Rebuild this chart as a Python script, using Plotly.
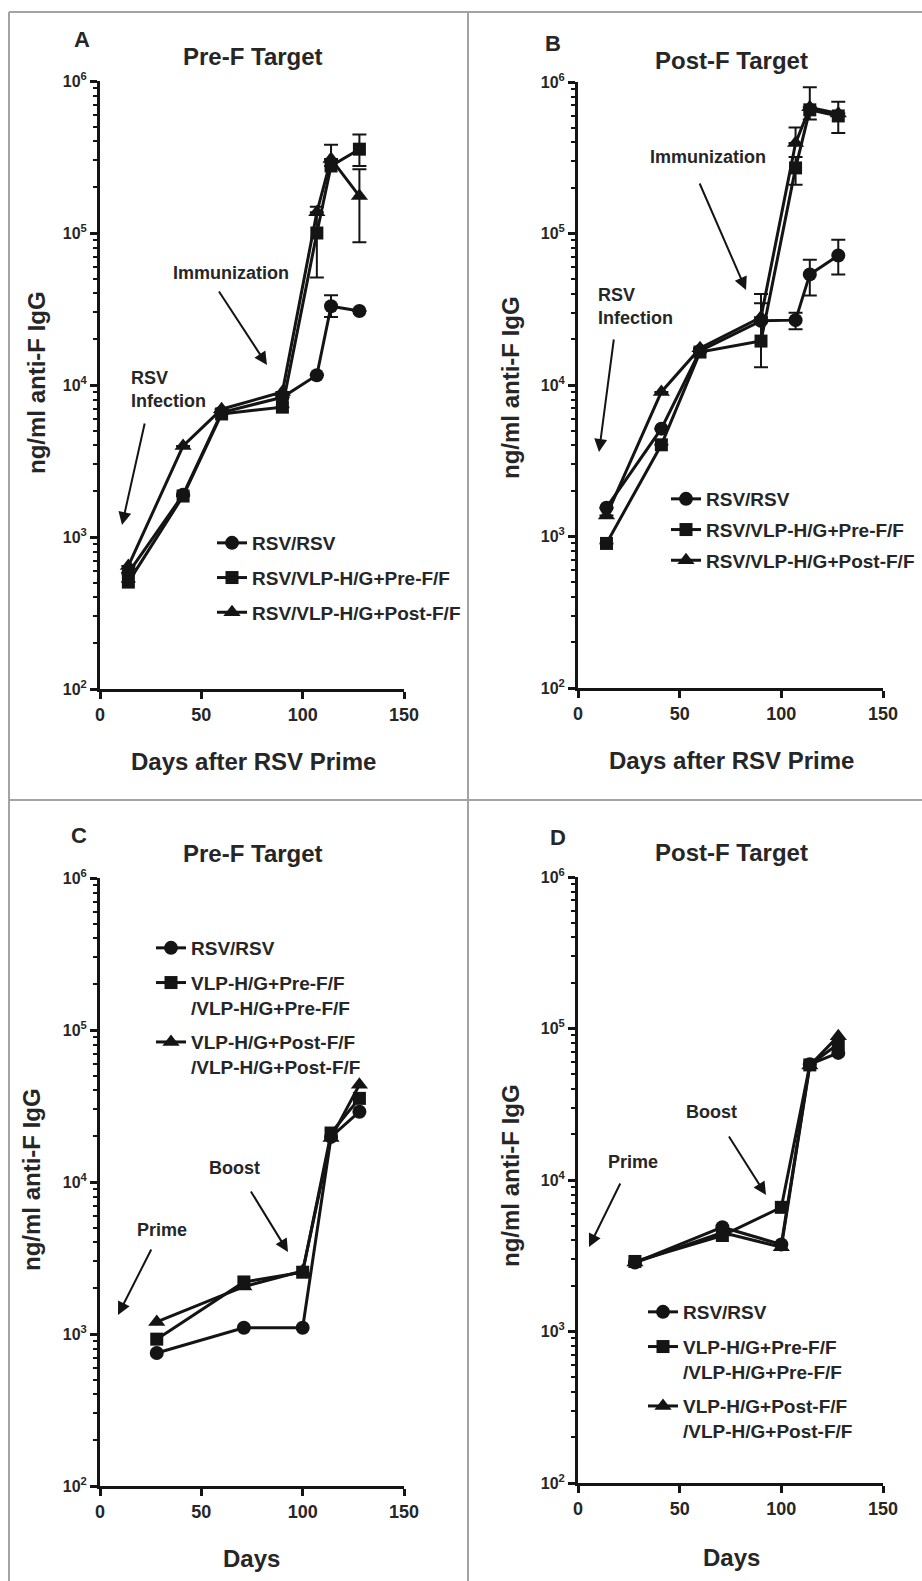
import plotly.graph_objects as go

W, H = 922, 1581

# ---------------- data ----------------
days_AB = [14, 41, 60, 90, 107, 114, 128]
days_CD = [28, 71, 100, 114, 128]

series_names_AB = ["RSV/RSV", "RSV/VLP-H/G+Pre-F/F", "RSV/VLP-H/G+Post-F/F"]
series_names_CD = ["RSV/RSV",
                   "VLP-H/G+Pre-F/F<br>/VLP-H/G+Pre-F/F",
                   "VLP-H/G+Post-F/F<br>/VLP-H/G+Post-F/F"]

# Panel A: Pre-F target
A_rsv = [580, 1900, 6600, 8300, 11600, 33000, 30700]
A_pre = [505, 1860, 6450, 7150, 100000, 276000, 356000]
A_post = [645, 3970, 6930, 9000, 137000, 307000, 175000]
A_rsv_lo = [None, None, None, None, None, 28000, None]
A_rsv_hi = [None, None, None, None, None, 38900, None]
A_pre_lo = [None, None, None, None, 51000, None, 276000]
A_pre_hi = [None, None, None, None, 149000, None, 445000]
A_post_lo = [None, None, None, None, None, None, 87000]
A_post_hi = [None, None, None, None, None, 380000, 263000]

# Panel B: Post-F target
B_rsv = [1550, 5150, 16800, 26500, 26800, 53700, 71600]
B_pre = [900, 4030, 16500, 19500, 271000, 655000, 597000]
B_post = [1375, 9000, 17500, 28000, 395000, 680000, 620000]
B_rsv_lo = [None, None, None, None, 23300, 39000, 53700]
B_rsv_hi = [None, None, None, 39800, 30000, 67000, 91000]
B_pre_lo = [None, None, None, 13100, 210000, 565000, 460000]
B_pre_hi = [None, None, None, 26000, 320000, 925000, 740000]
B_post_lo = [None, None, None, None, None, None, None]
B_post_hi = [None, None, None, 34600, 500000, None, None]

# Panel C: Pre-F target
C_rsv = [750, 1100, 1100, 19800, 29000]
C_pre = [925, 2200, 2550, 21000, 35500]
C_post = [1200, 2050, 2600, 19500, 43600]

# Panel D: Post-F target
D_rsv = [2850, 4880, 3750, 58000, 69000]
D_pre = [2900, 4300, 6600, 57500, 79000]
D_post = [2850, 4500, 3600, 57000, 89000]

y_tickvals = [1e2, 1e3, 1e4, 1e5, 1e6]
y_ticktext = ["10<sup>2</sup>", "10<sup>3</sup>", "10<sup>4</sup>", "10<sup>5</sup>", "10<sup>6</sup>"]
x_tickvals = [0, 50, 100, 150]

# ---------------- styling ----------------
FONT = "Liberation Sans, Arial, Helvetica, sans-serif"
TXT = "#262626"
INK = "#141414"
symbols = ["circle", "square", "triangle-up"]
msizes = [14, 13, 15]

# panel geometry in pixels: (x0, x1, ytop, ybottom)
panels = {
    "A": (100, 404, 81, 689),
    "B": (578, 883, 82, 688),
    "C": (100, 404, 878, 1486),
    "D": (578, 883, 877, 1483),
}


def px(x):
    return x / W


def py(y):
    return 1 - y / H


def errs(vals, lo, hi):
    plus = [(h - v) if h is not None else 0 for v, h in zip(vals, hi)]
    minus = [(v - l) if l is not None else 0 for v, l in zip(vals, lo)]
    return plus, minus


fig = go.Figure()

panel_data = [
    ("A", days_AB, series_names_AB, [A_rsv, A_pre, A_post],
     [(A_rsv_lo, A_rsv_hi), (A_pre_lo, A_pre_hi), (A_post_lo, A_post_hi)]),
    ("B", days_AB, series_names_AB, [B_rsv, B_pre, B_post],
     [(B_rsv_lo, B_rsv_hi), (B_pre_lo, B_pre_hi), (B_post_lo, B_post_hi)]),
    ("C", days_CD, series_names_CD, [C_rsv, C_pre, C_post], None),
    ("D", days_CD, series_names_CD, [D_rsv, D_pre, D_post], None),
]

legend_ids = {"A": "legend", "B": "legend2", "C": "legend3", "D": "legend4"}
axis_ids = {"A": ("x", "y"), "B": ("x2", "y2"), "C": ("x3", "y3"), "D": ("x4", "y4")}

for key, days, names, series, errors in panel_data:
    xa, ya = axis_ids[key]
    for i, (name, vals) in enumerate(zip(names, series)):
        err = None
        if errors is not None:
            lo, hi = errors[i]
            if any(v is not None for v in lo + hi):
                plus, minus = errs(vals, lo, hi)
                err = dict(type="data", array=plus, arrayminus=minus,
                           symmetric=False, color=INK, thickness=2, width=7)
        fig.add_trace(go.Scatter(
            x=days, y=vals, name=name, mode="lines+markers",
            xaxis=xa, yaxis=ya, legend=legend_ids[key],
            legendgroup=key + str(i),
            line=dict(color=INK, width=3),
            marker=dict(symbol=symbols[i], size=msizes[i], color=INK,
                        line=dict(width=0)),
            error_y=err, showlegend=True,
        ))

layout = dict(
    width=W, height=H, margin=dict(l=0, r=0, t=0, b=0, pad=0, autoexpand=False),
    paper_bgcolor="white", plot_bgcolor="rgba(0,0,0,0)",
    font=dict(family=FONT, color=TXT, size=18, weight="bold"),
)

for key, (x0, x1, yt, yb) in panels.items():
    xa, ya = axis_ids[key]
    xname = "xaxis" if xa == "x" else "xaxis" + xa[1:]
    yname = "yaxis" if ya == "y" else "yaxis" + ya[1:]
    layout[xname] = dict(
        domain=[px(x0), px(x1)], anchor=ya, range=[0, 150],
        tickvals=x_tickvals, ticks="outside", ticklen=7, tickwidth=2.5,
        tickcolor=INK, showline=True, linecolor=INK, linewidth=3,
        showgrid=False, zeroline=False, automargin=False,
        tickfont=dict(family=FONT, size=18, color=TXT, weight="bold"),
    )
    layout[yname] = dict(
        domain=[py(yb), py(yt)], anchor=xa, type="log", range=[2, 6],
        tickvals=y_tickvals, ticktext=y_ticktext, ticks="outside",
        ticklen=7, tickwidth=2.5, tickcolor=INK,
        showline=True, linecolor=INK, linewidth=3,
        showgrid=False, zeroline=False, automargin=False,
        tickfont=dict(family=FONT, size=16, color=TXT, weight="bold"),
        minor=dict(tickvals=[m * 10 ** e for e in range(2, 6) for m in range(2, 10)],
                   ticks="outside", ticklen=4, tickwidth=2, tickcolor=INK,
                   showgrid=False),
    )

# legends: (left, top, gap between entries)
legend_pos = {"A": (212, 524, 7), "B": (666, 480, 3), "C": (151, 929, 7), "D": (643, 1293, 7)}
for key, (lx, ly, gap) in legend_pos.items():
    layout[legend_ids[key]] = dict(
        x=px(lx), y=py(ly), xanchor="left", yanchor="top",
        bgcolor="rgba(0,0,0,0)", borderwidth=0, tracegroupgap=gap,
        valign="top", itemwidth=30,
        font=dict(family=FONT, size=19, color=TXT, weight="bold"),
    )

annotations = []


def text_ann(t, x, y, size, xanchor="center", align="center"):
    annotations.append(dict(
        text=t, x=px(x), y=py(y), xref="paper", yref="paper",
        xanchor=xanchor, yanchor="middle", align=align, showarrow=False,
        font=dict(family=FONT, size=size, color=TXT, weight="bold"),
    ))


def arrow(tail, tip):
    annotations.append(dict(
        text="", x=px(tip[0]), y=py(tip[1]), xref="paper", yref="paper",
        ax=tail[0] - tip[0], ay=tail[1] - tip[1], axref="pixel", ayref="pixel",
        showarrow=True, arrowhead=2, arrowsize=1.3, arrowwidth=2,
        arrowcolor=INK, standoff=0,
    ))


# panel letters and titles
for lab, (x, y) in {"A": (82, 40), "B": (553, 43), "C": (79, 835), "D": (558, 837)}.items():
    text_ann(lab, x, y, 22)
text_ann("Pre-F Target", 253, 57, 24)
text_ann("Post-F Target", 731, 60, 24)
text_ann("Pre-F Target", 253, 853, 24)
text_ann("Post-F Target", 731, 852, 24)

# axis titles
text_ann("Days after RSV Prime", 253, 762, 24)
text_ann("Days after RSV Prime", 731, 760, 24)
text_ann("Days", 252, 1558, 24)
text_ann("Days", 731, 1557, 24)
for x, y in [(37, 383), (511, 388), (31, 1180), (510, 1176)]:
    annotations.append(dict(
        text="ng/ml anti-F IgG", x=px(x), y=py(y), xref="paper", yref="paper",
        xanchor="center", yanchor="middle", textangle=-90, showarrow=False,
        font=dict(family=FONT, size=24, color=TXT, weight="bold"),
    ))

# in-plot annotations
text_ann("Immunization", 231, 273, 18)
arrow((218, 290), (267, 365))
text_ann("RSV<br>Infection", 129, 389, 18, xanchor="left", align="left")
arrow((145, 422), (122, 525))

text_ann("Immunization", 708, 157, 18)
arrow((699, 182), (746, 290))
text_ann("RSV<br>Infection", 596, 306, 18, xanchor="left", align="left")
arrow((614, 338), (599, 452))

text_ann("Boost", 234, 1168, 18)
arrow((250, 1190), (288, 1252))
text_ann("Prime", 162, 1230, 18)
arrow((152, 1248), (118, 1315))

text_ann("Boost", 711, 1112, 18)
arrow((728, 1135), (766, 1195))
text_ann("Prime", 633, 1162, 18)
arrow((621, 1182), (589, 1247))

layout["annotations"] = annotations

# panel frame lines
GRID = "#a3a3a3"
shapes = [
    dict(type="line", xref="paper", yref="paper", x0=px(9), x1=1, y0=py(12), y1=py(12),
         line=dict(color=GRID, width=2)),
    dict(type="line", xref="paper", yref="paper", x0=px(9), x1=px(9), y0=py(12), y1=0,
         line=dict(color=GRID, width=2)),
    dict(type="line", xref="paper", yref="paper", x0=px(468), x1=px(468), y0=py(12), y1=0,
         line=dict(color=GRID, width=2)),
    dict(type="line", xref="paper", yref="paper", x0=px(9), x1=1, y0=py(800), y1=py(800),
         line=dict(color=GRID, width=2)),
]
layout["shapes"] = shapes

fig.update_layout(**layout)
# remove the page's default body margin so the figure sits at the window origin
fig.write_html("out.html",
               config={"displayModeBar": False},
               post_script="document.body.style.margin='0';document.body.style.overflow='hidden';")
